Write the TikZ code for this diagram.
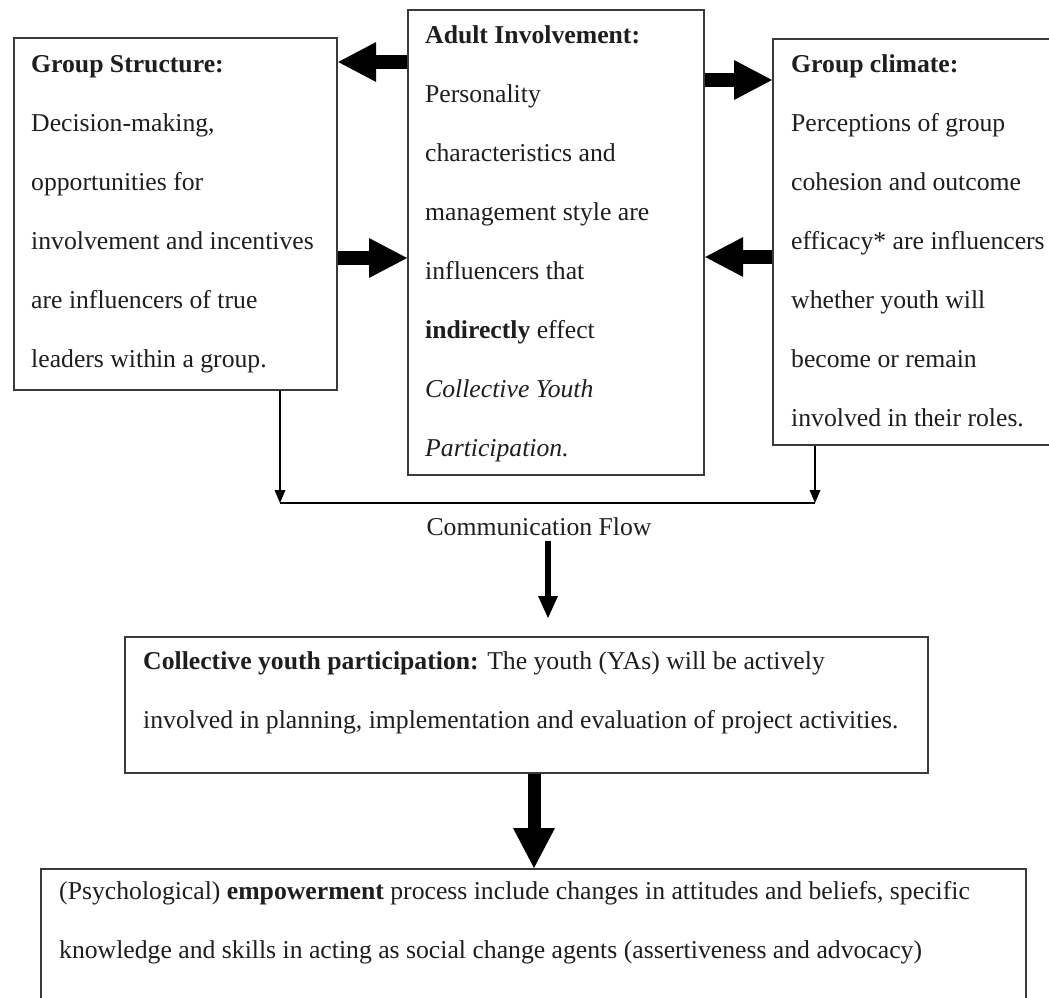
\documentclass[tikz,border=0pt]{standalone}
\usepackage{fontspec}
\setmainfont{Liberation Serif}
\usetikzlibrary{arrows.meta}
\definecolor{ink}{HTML}{1E1E1E}
\definecolor{frame}{HTML}{3A3A3A}
\begin{document}
\begin{tikzpicture}[x=1bp,y=-1bp,
  box/.style={draw=frame,line width=2.2bp,anchor=north west,inner sep=0pt},
  % multi-line texts are placed by the baseline of their last line
  txt/.style={anchor=base west,inner sep=0pt,align=left,text=ink,
    font=\fontsize{25.7bp}{59bp}\selectfont},
  fat/.style={line width=14bp,-{Triangle[length=38bp,width=40bp,line width=0pt]}},
  slim/.style={line width=6bp,-{Triangle[length=22bp,width=20bp,line width=0pt]}},
  feed/.style={line width=2.4bp,-{Triangle[length=13bp,width=11bp,line width=0pt]}},
  bus/.style={line width=2.6bp},
]
% canvas
\fill[white] (0,0) rectangle (1049,998);
\useasboundingbox (0,0) rectangle (1049,998);

% top row of boxes
\node[box,minimum width=323bp,minimum height=352bp] (gs) at (13,37) {};
\node[box,minimum width=296bp,minimum height=465bp] (ai) at (407,9) {};
\node[box,minimum width=300bp,minimum height=406bp] (gc) at (772,38) {};

\node[txt] (gsT) at (31,367) {\textbf{Group Structure:}\\Decision-making,\\opportunities for\\involvement and incentives\\are influencers of true\\leaders within a group.};
\node[txt] (aiT) at (425,456) {\textbf{Adult Involvement:}\\Personality\\characteristics and\\management style are\\influencers that\\\textbf{indirectly} effect\\\textit{Collective Youth}\\\textit{Participation.}};
\node[txt] (gcT) at (791,426) {\textbf{Group climate:}\\Perceptions of group\\cohesion and outcome\\efficacy* are influencers\\whether youth will\\become or remain\\involved in their roles.};

% lower boxes
\node[box,minimum width=803bp,minimum height=136bp] (cyp) at (124,636) {};
\node[box,minimum width=985bp,minimum height=200bp] (emp) at (40,868) {};

\node[txt] (cypT) at (143,728) {\textbf{Collective youth participation:} The youth (YAs) will be actively\\involved in planning, implementation and evaluation of project activities.};
\node[txt] (empT) at (59,958) {(Psychological) \textbf{empowerment} process include changes in attitudes and beliefs, specific\\knowledge and skills in acting as social change agents (assertiveness and advocacy)};

% exchanges between the top boxes
\coordinate (ya) at (0,62);
\coordinate (yb) at (0,258);
\coordinate (yc) at (0,80);
\coordinate (yd) at (0,257);
\draw[fat] (ai.west |- ya) -- (gs.east |- ya);
\draw[fat] (gs.east |- yb) -- (ai.west |- yb);
\draw[fat] (ai.east |- yc) -- (gc.west |- yc);
\draw[fat] (gc.west |- yd) -- (ai.east |- yd);

% communication flow
\coordinate (jl) at (280,503);
\coordinate (jr) at (815,503);
\draw[feed] (gs.south -| jl) -- (jl);
\draw[feed] (gc.south -| jr) -- (jr);
\draw[bus] (jl) -- (jr);
\node[anchor=base,inner sep=0pt,text=ink,font=\fontsize{25.7bp}{30bp}\selectfont] (cf) at (539,535) {Communication Flow};
\coordinate (sx) at (548,0);
\coordinate (cfend) at (548,618);
\draw[slim,shorten <=6bp] (cf.south -| sx) -- (cfend);

% participation leads to empowerment
\coordinate (tx) at (534,0);
\draw[fat,line width=13bp,-{Triangle[length=40bp,width=42bp,line width=0pt]}] (cyp.south -| tx) -- (emp.north -| tx);
\end{tikzpicture}
\end{document}
